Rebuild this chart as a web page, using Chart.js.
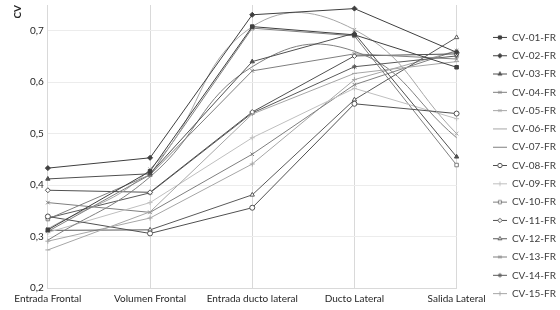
<!DOCTYPE html>
<html>
<head>
<meta charset="utf-8">
<script src="https://cdn.jsdelivr.net/npm/chart.js@4"></script>
<style>
  html, body { margin: 0; padding: 0; background: #fff; }
  #wrap { width: 560px; height: 310px; }
</style>
</head>
<body>
<div id="wrap"><canvas id="chart"></canvas></div>
<script>
const categories = ['Entrada Frontal', 'Volumen Frontal', 'Entrada ducto lateral', 'Ducto Lateral', 'Salida Lateral'];

const cv01 = [0.313, 0.427, 0.708, 0.692, 0.629];
const cv02 = [0.433, 0.453, 0.731, 0.743, 0.658];
const cv03 = [0.412, 0.422, 0.640, 0.695, 0.455];
const cv04 = [0.310, 0.420, 0.622, 0.655, 0.645];
const cv05 = [0.315, 0.431, 0.708, 0.702, 0.500];
const cv06 = [0.274, 0.348, 0.538, 0.617, 0.640];
const cv07 = [0.293, 0.416, 0.630, 0.660, 0.492];
const cv08 = [0.339, 0.306, 0.356, 0.558, 0.539];
const cv09 = [0.308, 0.366, 0.492, 0.588, 0.529];
const cv10 = [0.334, 0.420, 0.705, 0.690, 0.439];
const cv11 = [0.390, 0.386, 0.542, 0.651, 0.655];
const cv12 = [0.312, 0.313, 0.381, 0.566, 0.687];
const cv13 = [0.366, 0.347, 0.460, 0.595, 0.661];
const cv14 = [0.336, 0.385, 0.540, 0.630, 0.651];
const cv15 = [0.291, 0.336, 0.441, 0.605, 0.661];

const seriesNames = ['CV-01-FR', 'CV-02-FR', 'CV-03-FR', 'CV-04-FR', 'CV-05-FR', 'CV-06-FR', 'CV-07-FR', 'CV-08-FR',
    'CV-09-FR', 'CV-10-FR', 'CV-11-FR', 'CV-12-FR', 'CV-13-FR', 'CV-14-FR', 'CV-15-FR'];
const seriesValues = [cv01, cv02, cv03, cv04, cv05, cv06, cv07, cv08, cv09, cv10, cv11, cv12, cv13, cv14, cv15];

const yTicks = [0.2, 0.3, 0.4, 0.5, 0.6, 0.7];

// look of each series: colour, marker, filled marker, smoothed
const looks = [
    ['#3f3f3f', 'rect', true, false],
    ['#3f3f3f', 'rectRot', true, false],
    ['#505050', 'triangle', true, false],
    ['#7f7f7f', 'crossRot', false, false],
    ['#a6a6a6', 'crossRot', false, true],
    ['#a6a6a6', 'line', false, false],
    ['#7f7f7f', false, false, true],
    ['#505050', 'circle', false, false],
    ['#bfbfbf', 'cross', false, false],
    ['#7f7f7f', 'rect', false, false],
    ['#505050', 'rectRot', false, false],
    ['#595959', 'triangle', false, false],
    ['#7f7f7f', 'crossRot', false, false],
    ['#595959', 'star', false, false],
    ['#a6a6a6', 'cross', false, false]
];

// small line + marker swatch for the legend, excel style
function legendSwatch(look) {
    const [color, marker, filled] = look;
    const c = document.createElement('canvas');
    c.width = 14;
    c.height = 7;
    const g = c.getContext('2d');
    g.strokeStyle = color;
    g.lineWidth = 1;
    g.beginPath();
    g.moveTo(0, 3.5);
    g.lineTo(14, 3.5);
    g.stroke();
    if (marker && marker !== 'line') {
        g.fillStyle = filled ? color : '#ffffff';
        Chart.helpers.drawPoint(g, { pointStyle: marker, radius: 2.2, rotation: 0, borderWidth: 1 }, 7, 3.5);
    }
    return c;
}

const datasets = seriesNames.map((name, i) => {
    const [color, marker, filled, smooth] = looks[i];
    return {
        label: name,
        data: seriesValues[i],
        borderColor: color,
        backgroundColor: filled ? color : '#ffffff',
        borderWidth: 1,
        tension: smooth ? 0.45 : 0,
        pointStyle: marker || 'line',
        pointRadius: marker ? 2.5 : 0,
        pointBorderWidth: 1
    };
});

// push the plot away from the legend, then move the legend right and down
const legendGap = 20;
const legendShift = 28;
const legendDrop = 8;
const legendSpacing = {
    id: 'legendSpacing',
    beforeInit(chart) {
        const fit = chart.legend.fit;
        chart.legend.fit = function () {
            fit.call(this);
            this.width += legendGap;
        };
    },
    afterLayout(chart) {
        chart.legend.left += legendShift;
        chart.legend.top += legendDrop;
        chart.legend.bottom += legendDrop;
    }
};

const ctx = document.getElementById('chart').getContext('2d');

const chart = new Chart(ctx, {
    type: 'line',
    data: {
        labels: categories,
        datasets: datasets
    },
    plugins: [legendSpacing],
    options: {
        animation: false,
        responsive: true,
        maintainAspectRatio: false,
        layout: {
            padding: { left: 4, right: 2, top: 5, bottom: 0 }
        },
        plugins: {
            legend: {
                position: 'right',
                align: 'center',
                labels: {
                    usePointStyle: true,
                    pointStyleWidth: 14,
                    boxHeight: 7,
                    padding: 8.3,
                    color: '#404040',
                    font: { family: 'Lato', size: 10 },
                    generateLabels: chart => {
                        const items = Chart.defaults.plugins.legend.labels.generateLabels(chart);
                        items.forEach((item, i) => { item.pointStyle = legendSwatch(looks[i]); });
                        return items;
                    }
                }
            },
            tooltip: { enabled: false }
        },
        scales: {
            x: {
                offset: false,
                grid: { color: '#d9d9d9', drawTicks: false },
                border: { color: '#d9d9d9' },
                ticks: {
                    color: '#262626',
                    font: { family: 'Lato', size: 10 },
                    padding: 5,
                    maxRotation: 0,
                    autoSkip: false
                }
            },
            y: {
                min: 0.2,
                max: 0.75,
                afterBuildTicks: axis => {
                    axis.ticks = yTicks.map(v => ({ value: v }));
                },
                afterFit: axis => {
                    axis.paddingTop = 0;
                },
                grid: { color: '#ececec', drawTicks: false },
                border: { color: '#d9d9d9' },
                ticks: {
                    color: '#262626',
                    font: { family: 'Lato', size: 10 },
                    padding: 4,
                    callback: v => v.toFixed(1).replace('.', ',')
                },
                title: {
                    display: true,
                    text: 'CV',
                    align: 'end',
                    color: '#262626',
                    font: { family: 'Lato', size: 10, weight: 'bold' },
                    padding: { top: 8, bottom: 2 }
                }
            }
        }
    }
});
</script>
</body>
</html>
